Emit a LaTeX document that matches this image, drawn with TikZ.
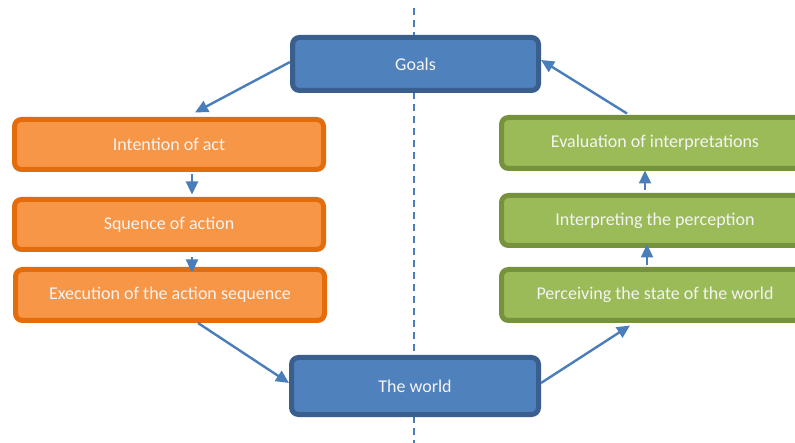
\documentclass[tikz,border=0pt]{standalone}
\usepackage{fontspec}
\setmainfont{Carlito}
\usetikzlibrary{arrows.meta}
\definecolor{bluefill}{HTML}{4F81BD}
\definecolor{blueline}{HTML}{3A5F8F}
\definecolor{orangefill}{HTML}{F79646}
\definecolor{orangeline}{HTML}{E46C0A}
\definecolor{greenfill}{HTML}{9BBB59}
\definecolor{greenline}{HTML}{76923C}
\definecolor{arrowblue}{HTML}{4A7EBB}
\definecolor{boxtext}{HTML}{F4F4F4}
\tikzset{
  box/.style={rectangle, rounded corners=7pt, line width=5pt, inner sep=0pt,
    text=boxtext, font=\fontsize{18}{21}\selectfont},
  bluebox/.style={box, draw=blueline, fill=bluefill, minimum width=246pt},
  orangebox/.style={box, draw=orangeline, fill=orangefill, minimum width=309pt, minimum height=50pt},
  greenbox/.style={box, draw=greenline, fill=greenfill, minimum width=307pt, minimum height=50pt},
  flow/.style={draw=arrowblue, line width=2.4pt, -{Triangle[length=13pt,width=12pt]}},
  divider/.style={draw=arrowblue, line width=2pt, dash pattern=on 7pt off 5pt}
}
\begin{document}
\begin{tikzpicture}[x=1pt, y=-1pt]
  \useasboundingbox (0,0) rectangle (795,443);
  \clip (0,0) rectangle (795,443);

  % vertical divider between the action and perception sides
  \coordinate (divtop) at (414,8);
  \coordinate (divbot) at (414,443);
  \draw[divider] (divtop) -- (divbot);

  % central boxes
  \node[bluebox, minimum height=53pt] (goals) at (415.5,64) {Goals};
  \node[bluebox, minimum height=57pt, minimum width=247pt] (world) at (415,386) {The world};

  % execution side
  \node[orangebox] (intent) at (169,144.5) {Intention of act};
  \node[orangebox] (seq) at (169,224.5) {Squence of action};
  \node[orangebox, minimum height=51pt] (exec) at (170,295) {Execution of the action sequence};

  % evaluation side
  \node[greenbox, minimum height=51pt] (eval) at (655,143) {Evaluation of interpretations};
  \node[greenbox] (interp) at (655,220.5) {Interpreting the perception};
  \node[greenbox, minimum height=51pt] (perc) at (655,295) {Perceiving the state of the world};

  % connectors
  \draw[flow] ([yshift=2pt]goals.west) -- ([xshift=26pt,yshift=4.5pt]intent.north);
  \draw[flow] ([xshift=23pt,yshift=-2.5pt]intent.south) -- ([xshift=23pt,yshift=2.5pt]seq.north);
  \draw[flow] ([xshift=23pt,yshift=-5.5pt]seq.south) -- ([xshift=22pt,yshift=-5.5pt]exec.north);
  \draw[flow] ([xshift=28pt]exec.south) -- ([yshift=3pt]world.west);
  \draw[flow] ([yshift=3pt]world.east) -- ([xshift=-25pt,yshift=-2.5pt]perc.south);
  \draw[flow] ([xshift=-8pt,yshift=1.5pt]perc.north) -- ([xshift=-8pt,yshift=3.5pt]interp.south);
  \draw[flow] ([xshift=-10pt,yshift=2.5pt]interp.north) -- ([xshift=-10pt,yshift=0.5pt]eval.south);
  \draw[flow] ([xshift=-28pt,yshift=1.5pt]eval.north) -- ([yshift=4pt]goals.east);
\end{tikzpicture}
\end{document}
